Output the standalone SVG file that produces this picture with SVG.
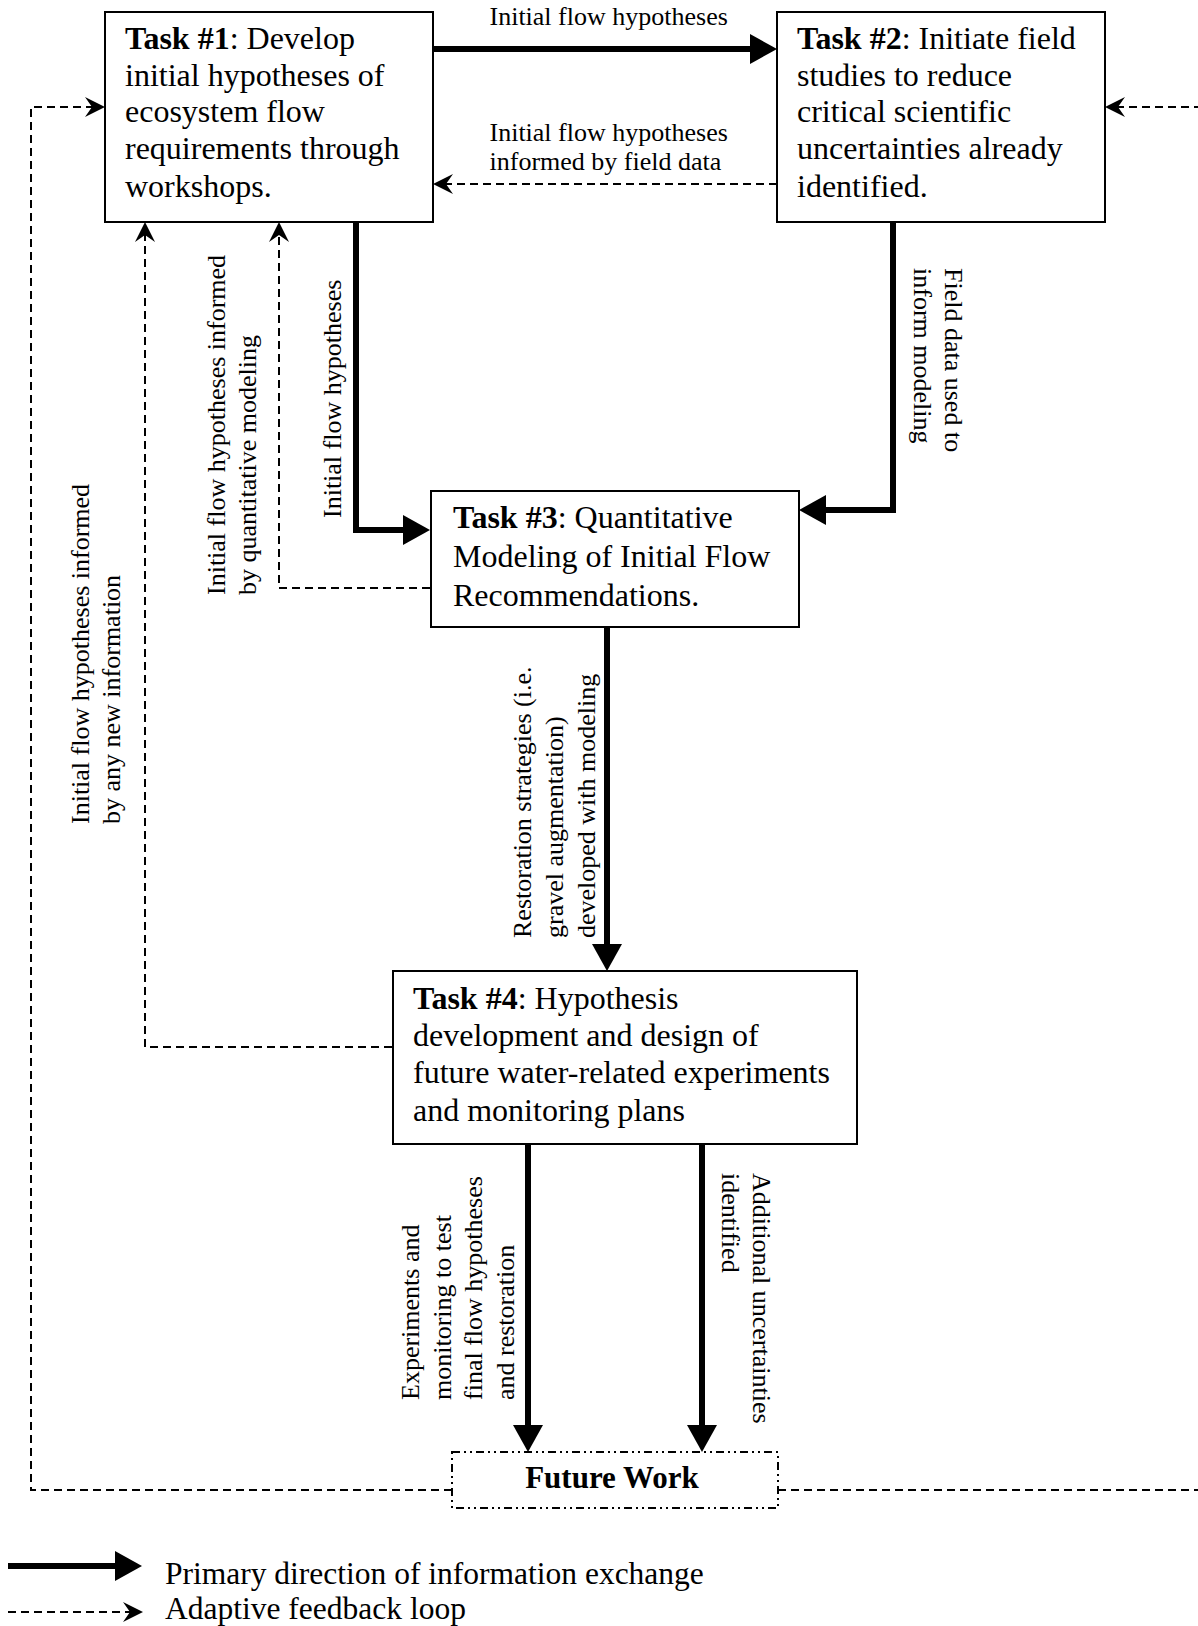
<svg xmlns="http://www.w3.org/2000/svg" width="1198" height="1626" viewBox="0 0 1198 1626">
<style>
text{font-family:"Liberation Serif","Times New Roman",serif;fill:#000}
.t{font-size:32px}
.lg{font-size:31.5px}
.l{font-size:26px}
.b{font-weight:bold}
.box{fill:#fff;stroke:#000;stroke-width:2}
.fw{fill:#fff;stroke:#000;stroke-width:2;stroke-dasharray:8 4 2 4 2 4}
.thick{fill:none;stroke:#000;stroke-width:6;marker-end:url(#ah)}
.dash{fill:none;stroke:#000;stroke-width:2;stroke-dasharray:8 5;marker-end:url(#ad)}
</style>
<defs>
<marker id="ah" markerUnits="userSpaceOnUse" markerWidth="27" markerHeight="30" refX="1" refY="15" orient="auto" overflow="visible">
<path d="M0,0 L27,15 L0,30 Z" fill="#000"/>
</marker>
<marker id="ad" markerUnits="userSpaceOnUse" markerWidth="20" markerHeight="20" refX="7" refY="10" orient="auto" overflow="visible">
<path d="M0,0 L20,10 L0,20 L7,10 Z" fill="#000" stroke="none"/>
</marker>
</defs>
<rect width="1198" height="1626" fill="#fff"/>

<g id="connectors">
<path class="thick" d="M433,49 H751"/>
<path class="dash" d="M777,184 H446"/>
<path class="dash" d="M452,1490 H31 V107 H92"/>
<path class="dash" d="M778,1490 H1202 V107 H1118"/>
<path class="thick" d="M356,222 V530 H404"/>
<path class="dash" d="M430,588 H279 V235"/>
<path class="dash" d="M392,1047 H145 V235"/>
<path class="thick" d="M893,222 V510 H825"/>
<path class="thick" d="M607,627 V945"/>
<path class="thick" d="M528,1144 V1426"/>
<path class="thick" d="M702,1144 V1426"/>
<text class="l" x="489.5" y="25">Initial flow hypotheses</text>
<text class="l" x="489.5" y="141">Initial flow hypotheses</text>
<text class="l" x="489.5" y="170">informed by field data</text>
<text class="l" transform="translate(341,518) rotate(-90)">Initial flow hypotheses</text>
<text class="l" transform="translate(225,595) rotate(-90)"><tspan x="0" y="0">Initial flow hypotheses informed</tspan><tspan x="0" y="31">by quantitative modeling</tspan></text>
<text class="l" transform="translate(89,824) rotate(-90)"><tspan x="0" y="0">Initial flow hypotheses informed</tspan><tspan x="0" y="31">by any new information</tspan></text>
<text class="l" transform="translate(945,268) rotate(90)"><tspan x="0" y="0">Field data used to</tspan><tspan x="0" y="31">inform modeling</tspan></text>
<text class="l" transform="translate(531,938) rotate(-90)"><tspan x="0" y="0">Restoration strategies (i.e.</tspan><tspan x="0" y="32">gravel augmentation)</tspan><tspan x="0" y="64">developed with modeling</tspan></text>
<text class="l" transform="translate(419,1400) rotate(-90)"><tspan x="0" y="0">Experiments and</tspan><tspan x="0" y="31.5">monitoring to test</tspan><tspan x="0" y="63">final flow hypotheses</tspan><tspan x="0" y="94.5">and restoration</tspan></text>
<text class="l" transform="translate(753,1173) rotate(90)"><tspan x="0" y="0">Additional uncertainties</tspan><tspan x="0" y="31">identified</tspan></text>
</g>

<g id="task1">
<rect class="box" x="105" y="12" width="328" height="210"/>
<text class="t" x="125" y="49"><tspan class="b">Task #1</tspan>: Develop</text>
<text class="t" x="125" y="86">initial hypotheses of</text>
<text class="t" x="125" y="122">ecosystem flow</text>
<text class="t" x="125" y="159">requirements through</text>
<text class="t" x="125" y="197">workshops.</text>
</g>

<g id="task2">
<rect class="box" x="777" y="12" width="328" height="210"/>
<text class="t" x="797" y="49"><tspan class="b">Task #2</tspan>: Initiate field</text>
<text class="t" x="797" y="86">studies to reduce</text>
<text class="t" x="797" y="122">critical scientific</text>
<text class="t" x="797" y="159">uncertainties already</text>
<text class="t" x="797" y="197">identified.</text>
</g>

<g id="task3">
<rect class="box" x="431" y="491" width="368" height="136"/>
<text class="t" x="453" y="528"><tspan class="b">Task #3</tspan>: Quantitative</text>
<text class="t" x="453" y="567">Modeling of Initial Flow</text>
<text class="t" x="453" y="606">Recommendations.</text>
</g>

<g id="task4">
<rect class="box" x="393" y="971" width="464" height="173"/>
<text class="t" x="413" y="1009"><tspan class="b">Task #4</tspan>: Hypothesis</text>
<text class="t" x="413" y="1046">development and design of</text>
<text class="t" x="413" y="1083">future water-related experiments</text>
<text class="t" x="413" y="1121">and monitoring plans</text>
</g>

<g id="future">
<rect class="fw" x="452" y="1452" width="326" height="56"/>
<text class="t b" x="612" y="1488" text-anchor="middle" style="font-size:31px">Future Work</text>
</g>

<g id="legend">
<path class="thick" d="M8,1566 H116"/>
<text class="lg" x="165" y="1584">Primary direction of information exchange</text>
<path class="dash" d="M8,1612 H130"/>
<text class="lg" x="165" y="1619">Adaptive feedback loop</text>
</g>
</svg>
